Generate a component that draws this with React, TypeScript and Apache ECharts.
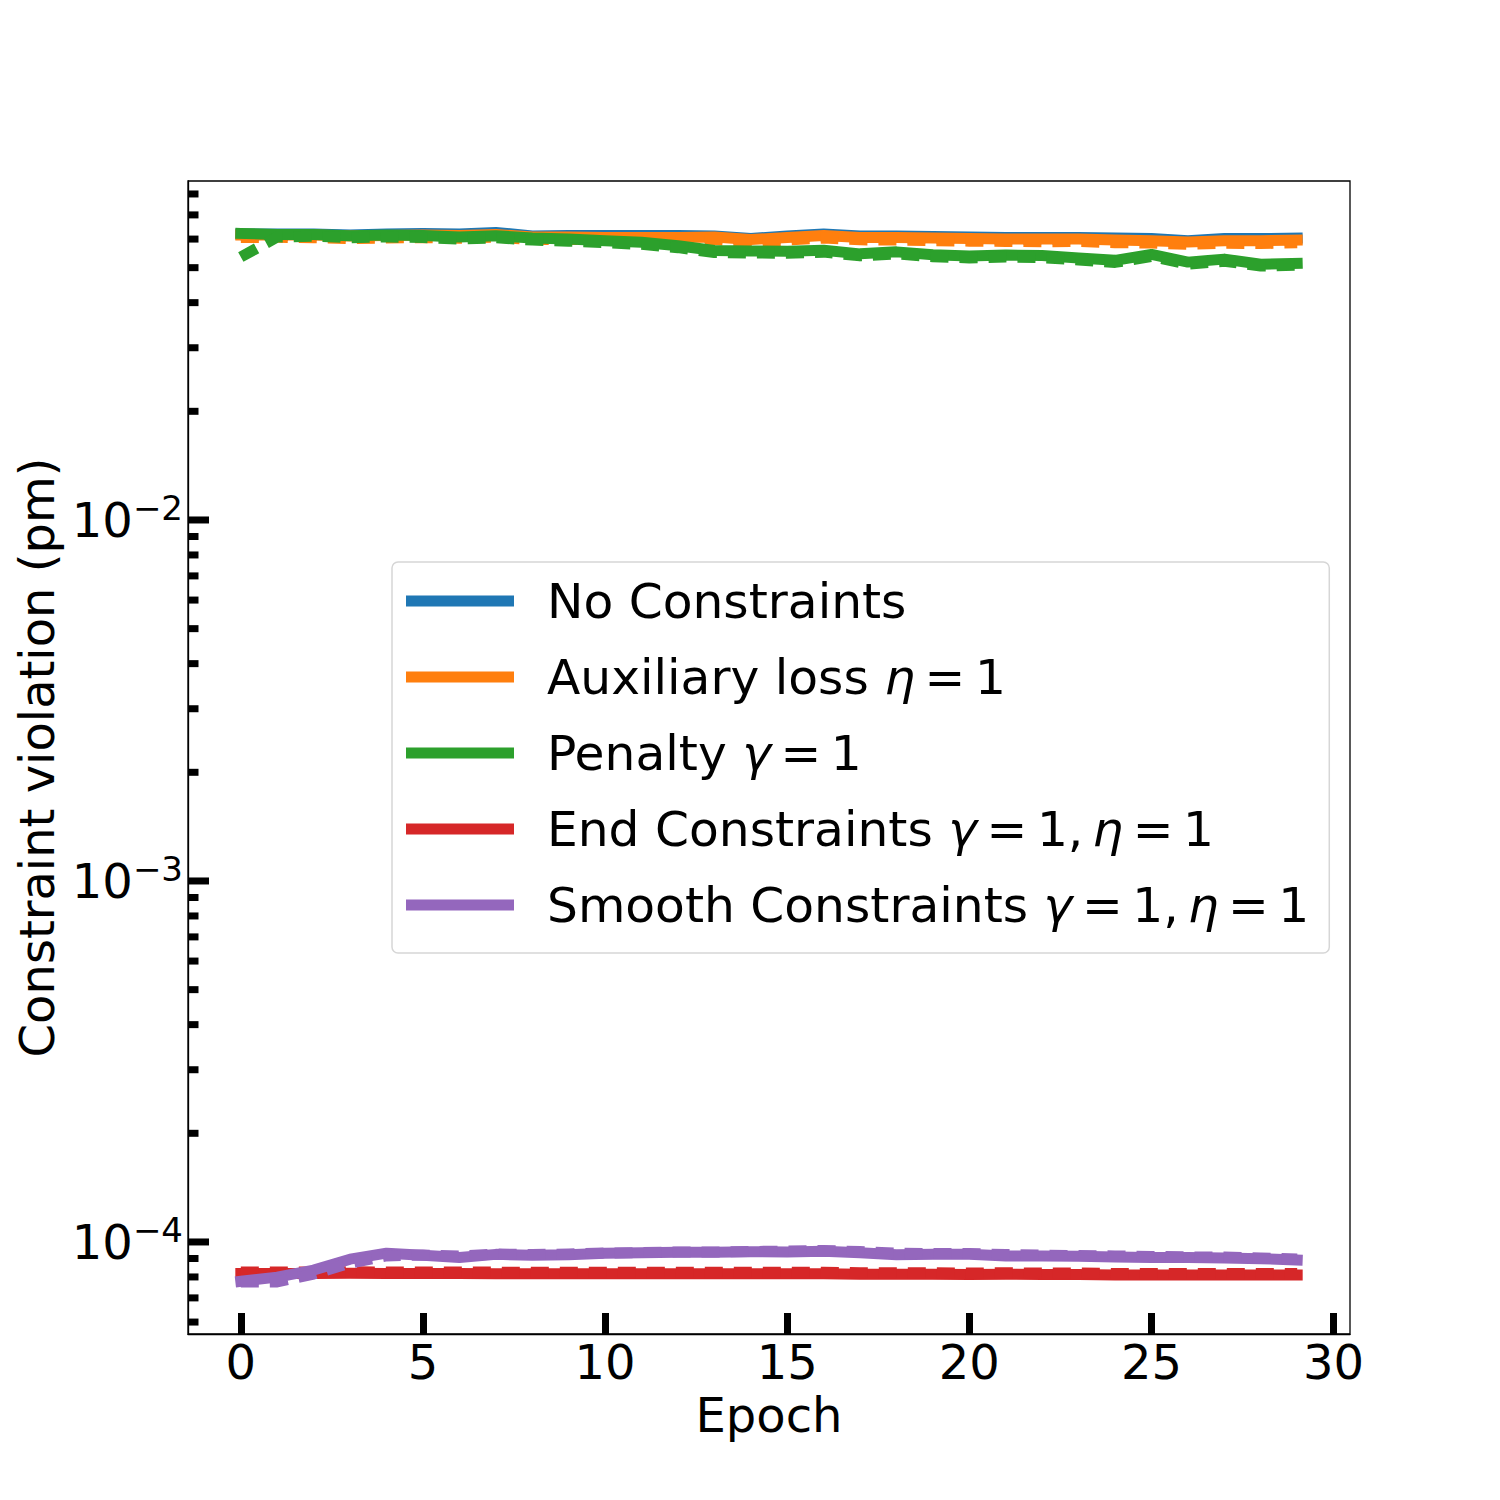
import React, { useEffect, useRef } from 'react';
import * as echarts from 'echarts';

const EPOCHS = [0, 1, 2, 3, 4, 5, 6, 7, 8, 9, 10, 11, 12, 13, 14, 15, 16, 17, 18, 19, 20, 21, 22, 23, 24, 25, 26, 27, 28, 29];

const NO_CONSTRAINTS = [0.0620, 0.0620, 0.0620, 0.0616, 0.0620, 0.0622, 0.0620, 0.0626, 0.0612, 0.0614, 0.0614, 0.0614, 0.0614, 0.0612, 0.0602, 0.0612, 0.0620, 0.0612, 0.0612, 0.0610, 0.0608, 0.0606, 0.0606, 0.0606, 0.0604, 0.0602, 0.0594, 0.0602, 0.0602, 0.0604];
const NO_CONSTRAINTS_DASH = [0.0614, 0.0614, 0.0615, 0.0610, 0.0614, 0.0616, 0.0613, 0.0619, 0.0607, 0.0608, 0.0609, 0.0608, 0.0609, 0.0606, 0.0597, 0.0606, 0.0613, 0.0607, 0.0606, 0.0604, 0.0602, 0.0601, 0.0600, 0.0601, 0.0598, 0.0596, 0.0589, 0.0597, 0.0596, 0.0598];
const AUX_LOSS = [0.0616, 0.0616, 0.0616, 0.0612, 0.0614, 0.0616, 0.0614, 0.0618, 0.0608, 0.0608, 0.0606, 0.0606, 0.0606, 0.0608, 0.0598, 0.0606, 0.0614, 0.0606, 0.0606, 0.0604, 0.0602, 0.0600, 0.0600, 0.0600, 0.0596, 0.0594, 0.0589, 0.0594, 0.0594, 0.0596];
const AUX_LOSS_DASH = [0.0606, 0.0607, 0.0605, 0.0602, 0.0604, 0.0606, 0.0603, 0.0608, 0.0598, 0.0599, 0.0596, 0.0597, 0.0596, 0.0598, 0.0589, 0.0596, 0.0604, 0.0597, 0.0596, 0.0594, 0.0592, 0.0591, 0.0590, 0.0591, 0.0586, 0.0585, 0.0580, 0.0584, 0.0583, 0.0586];
const PENALTY = [0.0622, 0.0618, 0.0618, 0.0613, 0.0616, 0.0614, 0.0608, 0.0613, 0.0604, 0.0600, 0.0594, 0.0588, 0.0575, 0.0558, 0.0556, 0.0555, 0.0559, 0.0546, 0.0553, 0.0543, 0.0539, 0.0542, 0.0540, 0.0532, 0.0524, 0.0544, 0.0518, 0.0528, 0.0511, 0.0514];
const PENALTY_DASH = [0.0535, 0.0608, 0.0611, 0.0605, 0.0608, 0.0606, 0.0600, 0.0605, 0.0596, 0.0592, 0.0586, 0.0580, 0.0568, 0.0551, 0.0549, 0.0548, 0.0552, 0.0539, 0.0546, 0.0536, 0.0532, 0.0535, 0.0533, 0.0525, 0.0517, 0.0537, 0.0511, 0.0521, 0.0505, 0.0508];
const END_CONSTRAINTS = [8.18e-5, 8.18e-5, 8.18e-5, 8.19e-5, 8.18e-5, 8.18e-5, 8.18e-5, 8.17e-5, 8.17e-5, 8.17e-5, 8.17e-5, 8.17e-5, 8.16e-5, 8.16e-5, 8.16e-5, 8.16e-5, 8.16e-5, 8.14e-5, 8.14e-5, 8.14e-5, 8.12e-5, 8.14e-5, 8.12e-5, 8.12e-5, 8.10e-5, 8.10e-5, 8.10e-5, 8.10e-5, 8.10e-5, 8.10e-5];
const END_CONSTRAINTS_DASH = [8.26e-5, 8.26e-5, 8.26e-5, 8.27e-5, 8.26e-5, 8.26e-5, 8.26e-5, 8.25e-5, 8.25e-5, 8.25e-5, 8.25e-5, 8.25e-5, 8.24e-5, 8.24e-5, 8.24e-5, 8.24e-5, 8.24e-5, 8.22e-5, 8.22e-5, 8.22e-5, 8.20e-5, 8.22e-5, 8.20e-5, 8.20e-5, 8.18e-5, 8.18e-5, 8.18e-5, 8.18e-5, 8.18e-5, 8.18e-5];
const SMOOTH_CONSTRAINTS = [7.78e-5, 7.99e-5, 8.36e-5, 8.96e-5, 9.31e-5, 9.19e-5, 9.06e-5, 9.24e-5, 9.19e-5, 9.22e-5, 9.31e-5, 9.34e-5, 9.36e-5, 9.36e-5, 9.40e-5, 9.38e-5, 9.42e-5, 9.34e-5, 9.22e-5, 9.24e-5, 9.24e-5, 9.15e-5, 9.15e-5, 9.13e-5, 9.09e-5, 9.06e-5, 9.06e-5, 9.03e-5, 8.99e-5, 8.91e-5];
const SMOOTH_CONSTRAINTS_DASH = [7.75e-5, 7.75e-5, 8.15e-5, 8.74e-5, 9.15e-5, 9.20e-5, 9.15e-5, 9.26e-5, 9.23e-5, 9.26e-5, 9.32e-5, 9.35e-5, 9.38e-5, 9.38e-5, 9.41e-5, 9.44e-5, 9.47e-5, 9.41e-5, 9.32e-5, 9.29e-5, 9.29e-5, 9.23e-5, 9.20e-5, 9.17e-5, 9.15e-5, 9.12e-5, 9.09e-5, 9.09e-5, 9.03e-5, 8.97e-5];

const SERIES_NAMES = ['No Constraints', 'Auxiliary loss η=1', 'Penalty γ=1', 'End Constraints γ=1, η=1', 'Smooth Constraints γ=1, η=1'];
const LEGEND_RICH: Record<string, string> = {
  'No Constraints': '{sp|}No Constraints',
  'Auxiliary loss η=1': '{sp|}Auxiliary loss {i|η}{e|=}{t|1}',
  'Penalty γ=1': '{sp|}Penalty {i|γ}{e|=}{t|1}',
  'End Constraints γ=1, η=1': '{sp|}End Constraints {i|γ}{e|=}{t|1,}{g|}{i|η}{e|=}{t|1}',
  'Smooth Constraints γ=1, η=1': '{sp|}Smooth Constraints {i|γ}{e|=}{t|1,}{g|}{i|η}{e|=}{t|1}',
};
const COLORS = ['#1f77b4', '#ff7f0e', '#2ca02c', '#d62728', '#9467bd'];
const SOLID = [NO_CONSTRAINTS, AUX_LOSS, PENALTY, END_CONSTRAINTS, SMOOTH_CONSTRAINTS];
const DASHED = [NO_CONSTRAINTS_DASH, AUX_LOSS_DASH, PENALTY_DASH, END_CONSTRAINTS_DASH, SMOOTH_CONSTRAINTS_DASH];

const X_TICKS = [0, 5, 10, 15, 20, 25, 30];
const Y_MAJOR = [1e-4, 1e-3, 1e-2];
const Y_MINOR = [6e-5, 7e-5, 8e-5, 9e-5, 2e-4, 3e-4, 4e-4, 5e-4, 6e-4, 7e-4, 8e-4, 9e-4, 2e-3, 3e-3, 4e-3, 5e-3, 6e-3, 7e-3, 8e-3, 9e-3, 2e-2, 3e-2, 4e-2, 5e-2, 6e-2, 7e-2, 8e-2];

const X_MIN = -1.45;
const X_MAX = 30.45;
const Y_MIN = 5.56e-5;
const Y_MAX = 0.0869;

const FONT = 'DejaVu Sans';
const LFS = 48.7;

function tickSeries(values: number[], len: number) {
  return {
    type: 'custom',
    coordinateSystem: 'cartesian2d',
    silent: true,
    z: 10,
    encode: { x: 0, y: 1 },
    data: values.map((v) => [X_MIN, v]),
    renderItem: (_p: any, api: any) => {
      const p = api.coord([api.value(0), api.value(1)]);
      return {
        type: 'line',
        shape: { x1: p[0], y1: p[1], x2: p[0] + len, y2: p[1] },
        style: { stroke: '#000', lineWidth: 7 },
      };
    },
  };
}

export default function App() {
  const ref = useRef<HTMLDivElement>(null);
  useEffect(() => {
    if (!ref.current) return;
    const chart = echarts.init(ref.current, null, { renderer: 'svg' });
    const lineSeries: any[] = [];
    SERIES_NAMES.forEach((name, i) => {
      lineSeries.push({
        type: 'line',
        name,
        data: EPOCHS.map((e, j) => [e, SOLID[i][j]]),
        showSymbol: false,
        symbol: 'none',
        color: COLORS[i],
        itemStyle: { color: COLORS[i] },
        lineStyle: { color: COLORS[i], width: 11, cap: 'square', join: 'round' },
        emphasis: { disabled: true },
        z: 2 + i,
      });
      lineSeries.push({
        type: 'line',
        name,
        data: EPOCHS.map((e, j) => [e, DASHED[i][j]]),
        showSymbol: false,
        symbol: 'none',
        color: COLORS[i],
        itemStyle: { color: COLORS[i] },
        lineStyle: { color: COLORS[i], width: 11, type: [18, 11], cap: 'butt', join: 'round' },
        emphasis: { disabled: true },
        z: 2 + i,
      });
    });
    const txt = { fontSize: LFS, fontFamily: FONT, color: '#000', lineHeight: 51 };
    const option: any = {
      animation: false,
      backgroundColor: '#ffffff',
      textStyle: { fontFamily: FONT },
      grid: {
        left: 188,
        top: 181,
        width: 1162,
        height: 1153,
        show: true,
        borderColor: '#000',
        borderWidth: 1.3,
        backgroundColor: 'transparent',
      },
      xAxis: {
        type: 'value',
        min: X_MIN,
        max: X_MAX,
        name: 'Epoch',
        nameLocation: 'middle',
        nameGap: 49,
        nameTextStyle: { fontSize: 48, fontFamily: FONT, color: '#000' },
        axisLine: { show: true, onZero: false, lineStyle: { color: '#000', width: 1.3 } },
        axisTick: { show: true, inside: true, length: 21, customValues: X_TICKS, lineStyle: { color: '#000', width: 7 } },
        axisLabel: { customValues: X_TICKS, fontSize: 48, fontFamily: FONT, color: '#000', margin: 4 },
        splitLine: { show: false },
      },
      yAxis: {
        type: 'log',
        logBase: 10,
        min: Y_MIN,
        max: Y_MAX,
        name: 'Constraint violation (pm)',
        nameLocation: 'middle',
        nameGap: 127,
        nameTextStyle: { fontSize: 48, fontFamily: FONT, color: '#000' },
        axisLine: { show: true, onZero: false, lineStyle: { color: '#000', width: 1.3 } },
        axisTick: { show: false },
        splitLine: { show: false },
        minorTick: { show: false },
        axisLabel: {
          margin: 5,
          showMinLabel: false,
          showMaxLabel: false,
          formatter: (v: number) => {
            const l = Math.log10(v);
            const r = Math.round(l);
            if (Math.abs(l - r) > 1e-6) return '';
            const s = r < 0 ? '\u2212' + Math.abs(r) : String(r);
            return '{b|10}{s|' + s + '}';
          },
          rich: {
            b: { fontSize: 48, fontFamily: FONT, color: '#000', lineHeight: 48 },
            s: { fontSize: 34, fontFamily: FONT, color: '#000', lineHeight: 34, padding: [0, 0, 24, 0] },
          },
        },
      },
      legend: {
        show: true,
        orient: 'vertical',
        left: 392,
        top: 562,
        data: SERIES_NAMES,
        icon: 'rect',
        itemWidth: 108,
        itemHeight: 11,
        itemGap: 25,
        selectedMode: false,
        padding: [13.5, 20, 22.5, 14],
        backgroundColor: '#ffffff',
        borderColor: '#d6d6d6',
        borderWidth: 1.5,
        borderRadius: 6,
        formatter: (name: string) => LEGEND_RICH[name] || name,
        textStyle: {
          ...txt,
          rich: {
            sp: { width: 28, fontSize: LFS, lineHeight: 51 },
            i: { ...txt, fontStyle: 'italic' },
            t: { ...txt },
            e: { ...txt, padding: [0, 9.5, 0, 9.5] },
            g: { width: 9, fontSize: LFS, lineHeight: 51 },
          },
        },
      },
      series: [...lineSeries, tickSeries(Y_MAJOR, 21), tickSeries(Y_MINOR, 10.5)],
    };
    chart.setOption(option);
    return () => chart.dispose();
  }, []);
  return <div ref={ref} style={{ position: 'fixed', left: 0, top: 0, width: 1500, height: 1500 }} />;
}
